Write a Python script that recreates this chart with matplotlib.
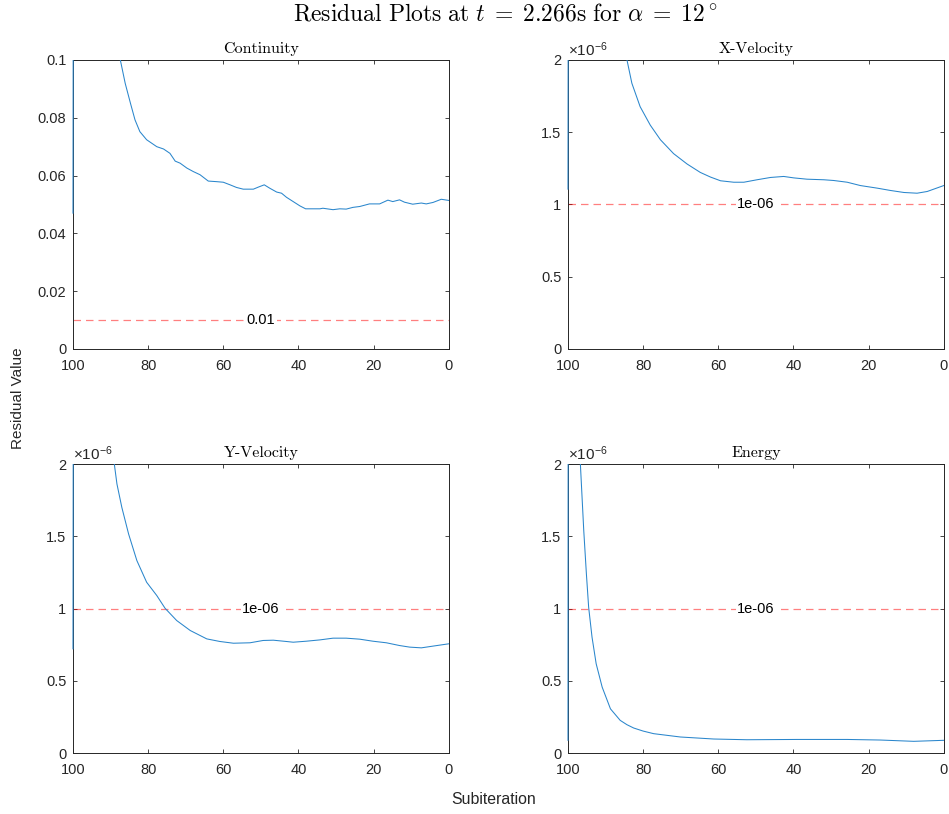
import numpy as np
import matplotlib
matplotlib.use("Agg")
import matplotlib.pyplot as plt
from matplotlib.ticker import FixedLocator
from matplotlib.transforms import Bbox, TransformedBbox

plt.rcParams['font.family'] = ['Liberation Sans', 'DejaVu Sans']
plt.rcParams['mathtext.fontset'] = 'custom'
plt.rcParams['mathtext.rm'] = 'Liberation Sans'
plt.rcParams['mathtext.it'] = 'Liberation Sans:italic'

# subiteration (reversed axis) and residuals
cont_x = [100, 99.5, 95, 91, 88.5, 87.4, 86.1, 84.7, 83.5, 82.2, 80.4, 77.7, 75.9, 74.2, 72.8, 71.5,
          69.7, 68.0, 66.2, 64.0, 61.8, 60.0, 58.2, 56.5, 54.7, 52.0, 50.7, 49.1, 47.6, 45.8,
          44.5, 43.2, 41.4, 39.6, 38.1, 34.3, 33.5, 30.8, 29.0, 27.3, 25.5, 23.7, 21.1, 18.4,
          16.2, 14.9, 13.1, 11.8, 9.6, 7.3, 6.0, 4.2, 2.0, 0]
cont_y = [0.047, 0.60, 0.25, 0.145, 0.112, 0.1, 0.0919, 0.0850, 0.0793, 0.0752, 0.0724, 0.0700,
          0.0692, 0.0677, 0.0650, 0.0643, 0.0626, 0.0614, 0.0603, 0.0581, 0.0579, 0.0577, 0.0568,
          0.0559, 0.0553, 0.0553, 0.0560, 0.0568, 0.0556, 0.0543, 0.0539, 0.0525, 0.0510, 0.0495,
          0.0485, 0.0485, 0.0487, 0.0482, 0.0485, 0.0484, 0.0490, 0.0493, 0.0502, 0.0502, 0.0515,
          0.0510, 0.0516, 0.0508, 0.0501, 0.0505, 0.0502, 0.0507, 0.0518, 0.0514]

xvel_x = [100, 99.5, 93, 88, 85.5, 84.3, 83.0, 80.8, 78.1, 75.4, 71.9, 68.3, 64.8, 62.1, 59.4,
          55.9, 53.2, 49.7, 46.1, 42.6, 39.9, 36.4, 31.9, 29.3, 25.7, 22.2, 17.7, 14.2, 10.6,
          7.1, 4.4, 0]
xvel_y = [1.106, 12.0, 4.5, 2.7, 2.2, 2.0, 1.839, 1.677, 1.549, 1.448, 1.352, 1.280, 1.222, 1.190,
          1.164, 1.154, 1.154, 1.171, 1.187, 1.194, 1.184, 1.175, 1.171, 1.166, 1.154, 1.131,
          1.113, 1.097, 1.083, 1.078, 1.090, 1.131]  # x 1e-6

yvel_x = [100, 99.5, 95, 91, 89.0, 88.3, 87.0, 85.2, 83.0, 80.4, 77.7, 75.5, 72.4, 68.8, 64.4,
          60.9, 57.3, 52.9, 49.4, 46.7, 43.2, 41.4, 37.9, 34.3, 30.8, 27.3, 23.7, 20.2, 16.6,
          13.1, 10.4, 7.3, 4.2, 0]
yvel_y = [0.721, 12.0, 4.0, 2.5, 2.0, 1.862, 1.700, 1.516, 1.332, 1.182, 1.090, 1.002, 0.917,
          0.848, 0.790, 0.772, 0.760, 0.763, 0.779, 0.781, 0.772, 0.767, 0.774, 0.783, 0.795,
          0.795, 0.788, 0.774, 0.763, 0.744, 0.733, 0.728, 0.740, 0.756]  # x 1e-6

ener_x = [100, 99.6, 98.5, 97.3, 96.7, 95.8, 95.1, 94.5, 93.6, 92.5, 90.9, 88.7, 86.1, 84.3,
          82.5, 80.0, 77.2, 70.1, 61.2, 52.4, 39.0, 25.7, 16.9, 8.0, 0]
ener_y = [0.088, 20.0, 5.0, 2.6, 2.0, 1.539, 1.240, 1.009, 0.802, 0.618, 0.456, 0.306, 0.226,
          0.196, 0.173, 0.152, 0.134, 0.111, 0.097, 0.092, 0.094, 0.094, 0.090, 0.081, 0.088]  # x 1e-6

titles = ['Continuity', 'X-Velocity', 'Y-Velocity', 'Energy']
thresholds = [0.01, 1.0, 1.0, 1.0]
thr_labels = ['0.01', '1e-06', '1e-06', '1e-06']
ylims = [0.1, 2.0, 2.0, 2.0]
yticks = [[0, 0.02, 0.04, 0.06, 0.08, 0.1], [0, 0.5, 1, 1.5, 2], [0, 0.5, 1, 1.5, 2], [0, 0.5, 1, 1.5, 2]]
yticklabels = [['0', '0.02', '0.04', '0.06', '0.08', '0.1'], ['0', '0.5', '1', '1.5', '2'],
               ['0', '0.5', '1', '1.5', '2'], ['0', '0.5', '1', '1.5', '2']]
xticks = [100, 80, 60, 40, 20, 0]
series = [(cont_x, cont_y), (xvel_x, xvel_y), (yvel_x, yvel_y), (ener_x, ener_y)]

fig = plt.figure(figsize=(9.49, 8.14), dpi=100)
positions = [[0.0769, 0.5713, 0.396, 0.355], [0.5985, 0.5713, 0.396, 0.355],
             [0.0769, 0.0749, 0.396, 0.355], [0.5985, 0.0749, 0.396, 0.355]]

dark = '#262626'
for i in range(4):
    ax = fig.add_axes(positions[i])
    x, y = series[i]
    ln, = ax.plot(x, y, color='#2a86cc', lw=0.75, zorder=3)
    # let the first vertical jump show on top of the left spine
    ln.set_clip_box(TransformedBbox(Bbox([[-0.006, 0], [1.0, 1.0]]), ax.transAxes))
    ax.axhline(thresholds[i], color='#FF0000', alpha=0.5, lw=0.9, ls=(0, (6, 4)))
    ax.text(50, thresholds[i], thr_labels[i], ha='center', va='center', fontsize=10.5, color='black',
            bbox=dict(facecolor='white', edgecolor='none', pad=1.0))
    ax.set_xlim(100, 0)
    ax.set_ylim(0, ylims[i])
    ax.xaxis.set_major_locator(FixedLocator(xticks))
    ax.set_xticklabels([str(t) for t in xticks])
    ax.set_yticks(yticks[i])
    ax.set_yticklabels(yticklabels[i])
    ax.tick_params(direction='in', length=3, width=0.6, colors=dark, labelsize=10.5,
                   top=True, right=True)
    ax.tick_params(axis='x', pad=7.5)
    ax.tick_params(axis='y', pad=4.8)
    for s in ax.spines.values():
        s.set_color(dark)
        s.set_linewidth(0.7)
    ax.set_title(titles[i], fontsize=11.5, fontfamily='cmr10', pad=5)
    if i > 0:
        ax.text(0.0, 1.005, r'$\times10^{-6}$', transform=ax.transAxes, ha='left', va='bottom',
                fontsize=11, color=dark)

fig.text(0.533, 0.982,
         r'$\mathrm{Residual\ Plots\ at\ }t\;=\;2.266\mathrm{s\ for\ }\alpha\;=\;12^\circ$',
         ha='center', va='center', fontsize=17, math_fontfamily='cm')
fig.text(0.019, 0.511, 'Residual Value', rotation=90, ha='center', va='center', fontsize=11, color=dark)
fig.text(0.52, 0.0184, 'Subiteration', ha='center', va='center', fontsize=11.4, color=dark)

fig.savefig('out.png', dpi=100)
